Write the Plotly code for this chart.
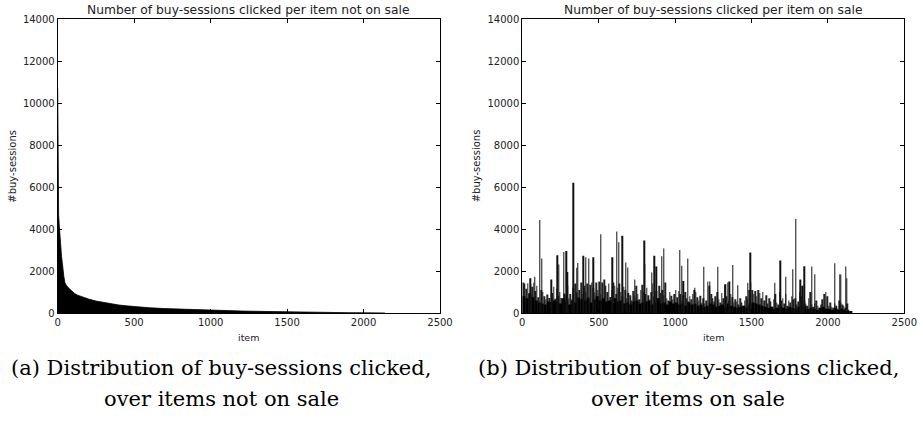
import plotly.graph_objects as go

W, H = 923, 422

# ---- Left chart: buy-sessions per item not on sale (rank-ordered) ----
left_items = [0, 1, 3, 6, 10, 15, 20, 25, 30, 35, 40, 47, 55, 70, 90, 110, 130,
              160, 200, 250, 300, 350, 400, 450, 500, 600, 700, 800, 900, 1000,
              1100, 1200, 1300, 1400, 1500, 1600, 1700, 1800, 1900, 2000, 2100, 2130, 2140]
left_values = [10700, 5800, 5200, 4700, 4200, 3600, 3100, 2700, 2400, 2000, 1750,
               1450, 1330, 1200, 1050, 930, 850, 760, 670, 570, 500, 430, 380, 340, 300,
               250, 210, 180, 155, 130, 110, 95, 80, 65, 50, 40, 30, 22, 15, 10, 5, 2, 0]

# ---- Right chart: buy-sessions per item on sale ----
# dense background, one value per 10 items
right_base = [
    1450, 1400, 1150, 1420, 950, 1380, 1250, 1450, 1050, 1300,
    750, 550, 1100, 1000, 800, 650, 880, 720, 520, 950,
    1250, 680, 1150, 820, 1000, 720, 560, 930, 870, 1300,
    700, 900, 650, 1200, 1400, 980, 760, 1100, 1450, 900,
    1300, 1000, 1400, 760, 1350, 1450, 1200, 980, 1450, 1100,
    1500, 900, 1450, 1600, 1300, 1000, 1400, 760, 1100, 1450,
    1300, 900, 1200, 1400, 1000, 800, 1250, 1100, 700, 950,
    850, 600, 1050, 780, 1300, 900, 650, 1100, 1350, 1000,
    900, 1200, 850, 650, 1000, 1400, 780, 1050, 700, 1300,
    950, 1100, 850, 1450, 700, 600, 1000, 820, 650, 900,
    1100, 750, 1050, 900, 600, 850, 1000, 700, 550, 800,
    650, 900, 1100, 1000, 750, 600, 820, 500, 700, 450,
    600, 1500, 1300, 900, 700, 550, 800, 1000, 650, 500,
    950, 700, 1350, 800, 1450, 600, 900, 750, 500, 650,
    550, 400, 700, 500, 350, 600, 800, 650, 1100, 1450,
    1100, 900, 1050, 800, 1100, 950, 700, 1000, 600, 850,
    450, 700, 550, 300, 650, 900, 500, 400, 1000, 600,
    700, 450, 900, 350, 600, 500, 800, 650, 700, 400,
    550, 1000, 800, 1300, 600, 450, 350, 700, 1000, 400,
    300, 450, 600, 350, 250, 400, 650, 900, 1000, 800,
    350, 500, 300, 250, 450, 350, 200, 600, 500, 400,
    350, 250, 450, 150, 80,
]
# solid floor, one value per 20 items
right_floor = [
    800, 700, 900, 750, 600, 500, 450, 400, 550, 500,
    600, 500, 450, 700, 550, 400, 600, 500, 700, 650,
    600, 700, 500, 650, 800, 600, 700, 550, 600, 500,
    700, 550, 600, 450, 500, 400, 550, 600, 450, 500,
    550, 600, 400, 500, 700, 450, 500, 400, 550, 450,
    500, 400, 450, 350, 500, 400, 450, 350, 400, 300,
    350, 450, 400, 300, 350, 400, 300, 450, 350, 300,
    250, 300, 350, 250, 400, 500, 450, 400, 350, 300,
    250, 300, 200, 250, 300, 250, 200, 300, 250, 200,
    300, 250, 350, 200, 250, 200, 150, 250, 300, 200,
    200, 150, 250, 150, 200, 150, 100, 50,
]
# tall individual spikes
spike_items = [52, 81, 116, 127, 190, 229, 240, 271, 288, 295, 334, 356, 365, 400, 415,
               437, 465, 513, 589, 618, 633, 655, 677, 690, 738, 797, 803, 847, 864, 877,
               912, 927, 1032, 1043, 1054, 1084, 1130, 1189, 1228, 1281, 1329, 1355, 1379,
               1411, 1477, 1492, 1654, 1689, 1724, 1772, 1789, 1820, 1831, 1846, 1896,
               1913, 2044, 2077, 2085, 2117, 2125]
spike_values = [1660, 1730, 4430, 2600, 1600, 2750, 2310, 2900, 2950, 1950, 6200, 2150,
                2380, 2730, 2650, 2600, 2650, 3750, 2650, 3880, 3370, 3680, 2400, 2170,
                1600, 3450, 2320, 1930, 2730, 2220, 2700, 3070, 3000, 2250, 1520, 2600,
                1200, 2200, 1500, 2200, 1370, 1500, 2290, 1320, 1440, 2880, 1440, 2500,
                1730, 2080, 4480, 1600, 1300, 2230, 2220, 1840, 2370, 1840, 1830, 2220,
                1660]

titles = ["Number of buy-sessions clicked per item not on sale",
          "Number of buy-sessions clicked per item on sale"]
captions = [["(a) Distribution of buy-sessions clicked,", "over items not on sale"],
            ["(b) Distribution of buy-sessions clicked,", "over items on sale"]]
x_label = "item"
y_label = "#buy-sessions"

# ---- layout geometry (pixels) ----
plots = [(57.7, 440.0), (522.3, 904.3)]
ptop, pbot = 19.0, 313.0


def px(x):
    return x / W


def py(y):
    return 1 - y / H


fig = go.Figure()

fig.add_trace(go.Scatter(x=left_items, y=left_values, mode="lines",
                         line=dict(color="black", width=0.8),
                         fill="tozeroy", fillcolor="black",
                         xaxis="x", yaxis="y", hoverinfo="skip", cliponaxis=False))

base_x = [i * 10 + 5 for i in range(len(right_base))]
floor_x = [i * 20 + 10 for i in range(len(right_floor))]
fig.add_trace(go.Bar(x=base_x, y=right_base, width=4,
                     marker=dict(color="#222222", line=dict(width=0)),
                     xaxis="x2", yaxis="y2"))
fig.add_trace(go.Bar(x=floor_x, y=right_floor, width=20,
                     marker=dict(color="black", line=dict(width=0)),
                     xaxis="x2", yaxis="y2"))
fig.add_trace(go.Bar(x=spike_items, y=spike_values, width=3,
                     marker=dict(color="#111111", line=dict(width=0)),
                     xaxis="x2", yaxis="y2"))

axis_common = dict(showgrid=False, zeroline=False, showline=True, linecolor="black",
                   linewidth=1, mirror="ticks", ticks="inside", ticklen=4,
                   tickcolor="black", tickwidth=1, automargin=False, tickformat="d",
                   tickfont=dict(family="DejaVu Sans", size=10, color="#222222"))

fig.update_layout(
    width=W, height=H, margin=dict(l=0, r=0, t=0, b=0, autoexpand=False),
    paper_bgcolor="white", plot_bgcolor="white", showlegend=False,
    barmode="overlay",
    xaxis=dict(domain=[px(plots[0][0]), px(plots[0][1])], range=[0, 2500], dtick=500,
               anchor="y", **axis_common),
    yaxis=dict(domain=[py(pbot), py(ptop)], range=[0, 14000], dtick=2000,
               anchor="x", **axis_common),
    xaxis2=dict(domain=[px(plots[1][0]), px(plots[1][1])], range=[0, 2500], dtick=500,
                anchor="y2", **axis_common),
    yaxis2=dict(domain=[py(pbot), py(ptop)], range=[0, 14000], dtick=2000,
                anchor="x2", **axis_common),
)

ann = []
for k, (x0, x1) in enumerate(plots):
    cx = (x0 + x1) / 2
    ann.append(dict(text=titles[k], x=px(cx), y=py(10), xref="paper", yref="paper",
                    showarrow=False, xanchor="center", yanchor="middle",
                    font=dict(family="DejaVu Sans", size=12.3, color="#222222")))
    ann.append(dict(text=x_label, x=px(cx), y=py(337), xref="paper", yref="paper",
                    showarrow=False, xanchor="center", yanchor="middle",
                    font=dict(family="DejaVu Sans", size=9.5, color="#222222")))
    ann.append(dict(text=y_label, x=px(x0 - 45), y=py((ptop + pbot) / 2), xref="paper",
                    yref="paper", showarrow=False, xanchor="center", yanchor="middle",
                    textangle=-90,
                    font=dict(family="DejaVu Sans", size=10, color="#222222")))
    ccx = [221, 688][k]
    ann.append(dict(text=captions[k][0], x=px(ccx), y=py(368), xref="paper", yref="paper",
                    showarrow=False, xanchor="center", yanchor="middle",
                    font=dict(family="DejaVu Serif", size=21, color="black")))
    ann.append(dict(text=captions[k][1], x=px(ccx), y=py(399), xref="paper", yref="paper",
                    showarrow=False, xanchor="center", yanchor="middle",
                    font=dict(family="DejaVu Serif", size=21, color="black")))
fig.update_layout(annotations=ann)

fig.write_html("out.html", config={"displayModeBar": False},
               post_script="document.body.style.margin='0';document.body.style.padding='0';")
